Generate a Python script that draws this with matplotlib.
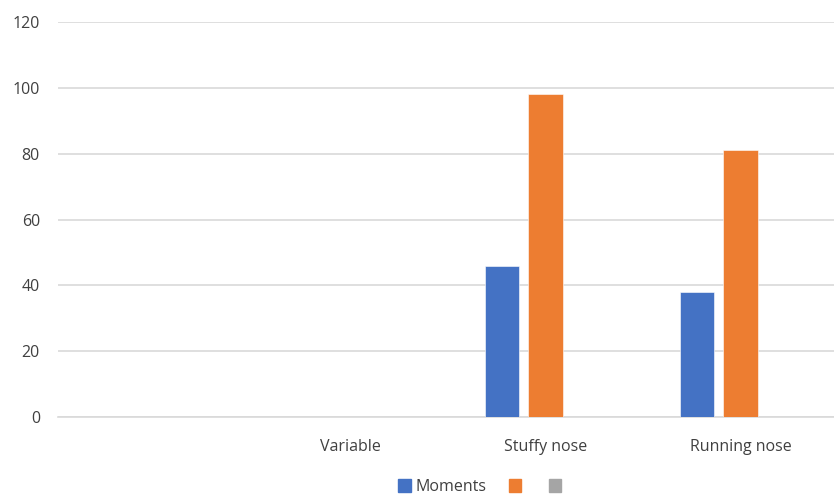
import matplotlib.pyplot as plt
import numpy as np
from matplotlib.patches import Patch

categories = ["", "Variable", "Stuffy nose", "Running nose"]
moments = [0, 0, 46, 38]
series_2 = [0, 0, 98, 81]
series_3 = [0, 0, 0, 0]

series = [
    ("Moments", moments, "#4472C4"),
    ("", series_2, "#ED7D31"),
    ("", series_3, "#A5A5A5"),
]

plt.rcParams["font.family"] = ["Open Sans", "DejaVu Sans"]
text_color = "#404040"
grid_color = "#d9d9d9"

fig = plt.figure(figsize=(8.34, 4.95), dpi=100)
ax = fig.add_axes([58 / 834, 78 / 495, 780 / 834, 395 / 495])

x = np.arange(len(categories))
width = 0.175
step = 0.222
for i, (name, values, color) in enumerate(series):
    ax.bar(x + (i - 1) * step, values, width, color=color,
           edgecolor="white", linewidth=0.4, label=name, zorder=3)

ax.set_xlim(-0.5, len(categories) - 0.5)
ax.set_ylim(0, 120)
ax.set_yticks(range(0, 121, 20))
ax.set_xticks(x)
ax.set_xticklabels(categories)
ax.yaxis.grid(True, color=grid_color, linewidth=1.2, zorder=0)
ax.tick_params(axis="both", length=0, labelsize=11.5, labelcolor=text_color)
ax.tick_params(axis="y", pad=13)
ax.tick_params(axis="x", pad=16)
for side in ["top", "right", "left"]:
    ax.spines[side].set_visible(False)
ax.spines["bottom"].set_color(grid_color)
ax.spines["bottom"].set_linewidth(1.2)

handles = [Patch(color=c) for _, _, c in series]
labels = [n for n, _, _ in series]
fig.legend(handles, labels, loc="center", bbox_to_anchor=(482 / 834, 1 - 487 / 495),
           ncol=3, frameon=False, fontsize=11.5, labelcolor=text_color,
           handlelength=0.8, handleheight=0.8, handletextpad=0.3, columnspacing=1.4)

fig.savefig("out.png", dpi=100)
